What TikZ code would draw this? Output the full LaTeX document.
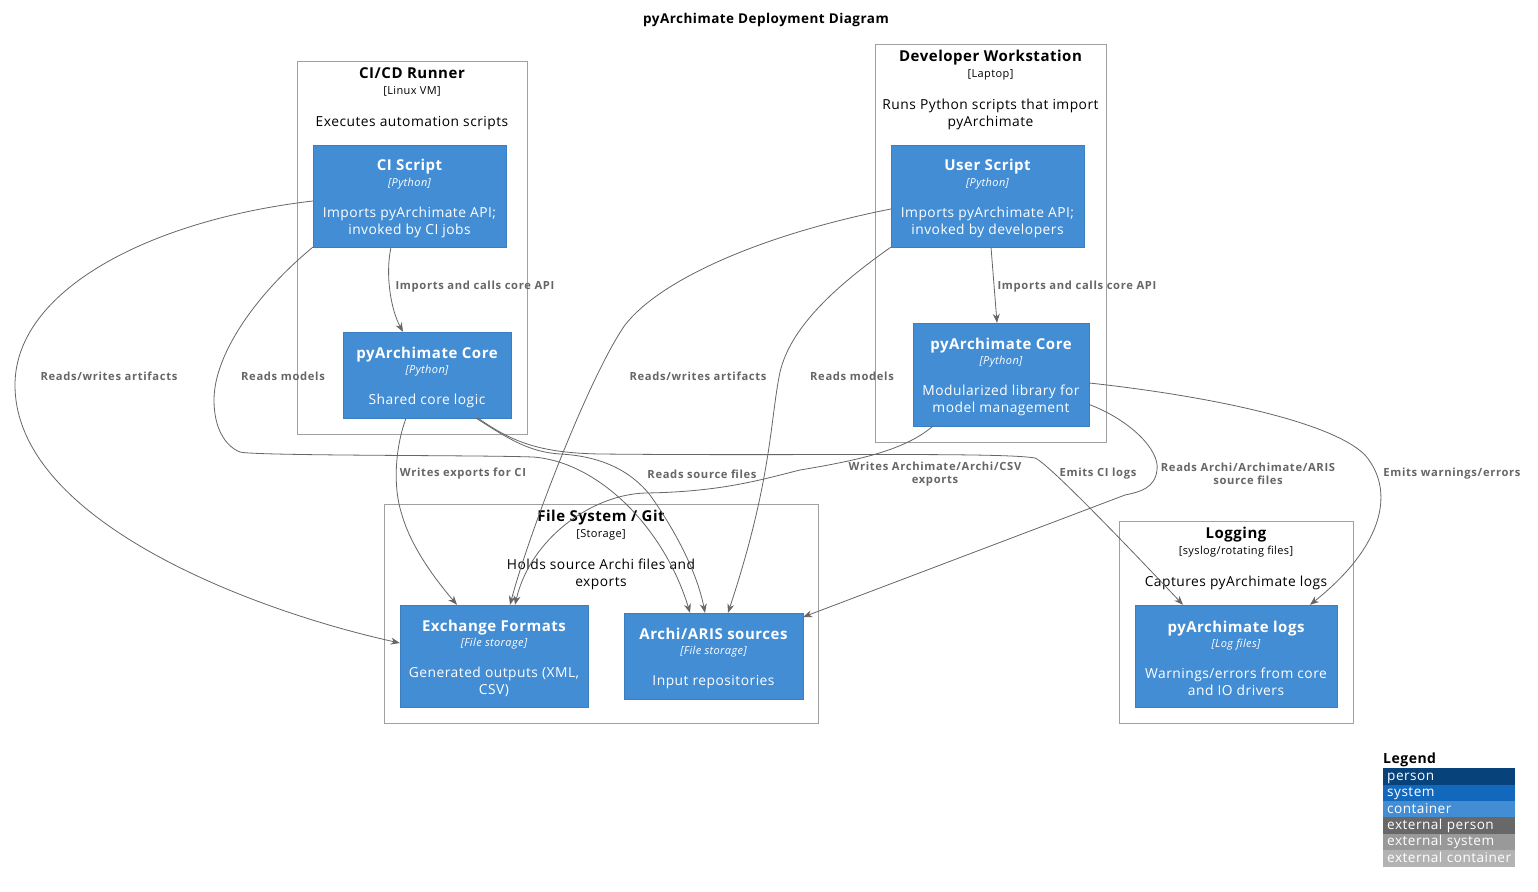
\documentclass[tikz,border=0pt]{standalone}
\usepackage{fontspec}
\setmainfont{Open Sans}[LetterSpace=3.5]
\newfontfamily\lblfont{Open Sans}[LetterSpace=6]
\usetikzlibrary{arrows.meta,calc}
\definecolor{cfill}{HTML}{438DD5}
\definecolor{cline}{HTML}{3C7FC0}
\definecolor{eline}{HTML}{666666}
\definecolor{bline}{HTML}{A0A0A0}
\definecolor{lperson}{HTML}{08427B}
\definecolor{lsystem}{HTML}{1168BD}
\definecolor{lcont}{HTML}{438DD5}
\definecolor{lextp}{HTML}{686868}
\definecolor{lexts}{HTML}{999999}
\definecolor{lextc}{HTML}{B3B3B3}
\begin{document}
\begin{tikzpicture}[x=1pt,y=-1pt,
 cont/.style={draw=cline,fill=cfill,text=white,align=center,inner sep=0pt,font=\fontsize{13.8}{17}\selectfont},
 bnd/.style={draw=bline,inner sep=0pt,line width=0.8pt},
 btext/.style={align=center,inner sep=0pt,anchor=north,font=\fontsize{13.8}{17}\selectfont},
 rel/.style={draw=eline,line width=0.8pt,-{Stealth[length=9pt,width=7pt]}},
 elabel/.style={text=eline,font=\lblfont\bfseries\fontsize{11.2}{13.5}\selectfont,align=center,inner sep=0pt},
 leg/.style={anchor=north west,text width=124pt,inner xsep=4pt,inner ysep=0pt,text height=12pt,text depth=4.4pt,align=left,text=white,font=\fontsize{13.6}{14}\selectfont}]
\useasboundingbox[fill=white] (0,0) rectangle (1538,891);

\node[font=\bfseries\fontsize{13.5}{16}\selectfont] (title) at (766,20) {pyArchimate Deployment Diagram};

% boundaries
\node[bnd,minimum width=230pt,minimum height=373pt] (cicd) at (412,247.5) {};
\node[btext] (cicdlbl) at (412,67) {{\bfseries\fontsize{15}{16.5}\selectfont CI/CD Runner}\\[-1pt]{\fontsize{11}{16.5}\selectfont [Linux VM]}\\[15pt]Executes automation scripts};
\node[bnd,minimum width=231pt,minimum height=398pt] (dev) at (990.5,243) {};
\node[btext] (devlbl) at (990.5,50) {{\bfseries\fontsize{15}{16.5}\selectfont Developer Workstation}\\[-1pt]{\fontsize{11}{16.5}\selectfont [Laptop]}\\[15pt]Runs Python scripts that import\\pyArchimate};
\node[bnd,minimum width=434pt,minimum height=219pt] (fs) at (601,613.5) {};
\node[btext] (fslbl) at (601,510) {{\bfseries\fontsize{15}{16.5}\selectfont File System / Git}\\[-1pt]{\fontsize{11}{16.5}\selectfont [Storage]}\\[15pt]Holds source Archi files and\\exports};
\node[bnd,minimum width=234pt,minimum height=202pt] (logb) at (1236,622) {};
\node[btext] (loglbl) at (1236,527) {{\bfseries\fontsize{15}{16.5}\selectfont Logging}\\[-1pt]{\fontsize{11}{16.5}\selectfont [syslog/rotating files]}\\[15pt]Captures pyArchimate logs};

% containers
\node[cont,minimum width=193pt,minimum height=102pt] (ciscript) at (409.5,196) {\rule{0pt}{16pt}{\bfseries\fontsize{15}{16.5}\selectfont CI Script}\\[-1.5pt]{\itshape\fontsize{11}{16.5}\selectfont [Python]}\\[14pt]Imports pyArchimate API;\\invoked by CI jobs};
\node[cont,minimum width=168pt,minimum height=86pt] (cicore) at (427,375) {\rule{0pt}{16pt}{\bfseries\fontsize{15}{16.5}\selectfont pyArchimate Core}\\[-1.5pt]{\itshape\fontsize{11}{16.5}\selectfont [Python]}\\[14pt]Shared core logic};
\node[cont,minimum width=193pt,minimum height=102pt] (uscript) at (987.5,196) {\rule{0pt}{16pt}{\bfseries\fontsize{15}{16.5}\selectfont User Script}\\[-1.5pt]{\itshape\fontsize{11}{16.5}\selectfont [Python]}\\[14pt]Imports pyArchimate API;\\invoked by developers};
\node[cont,minimum width=176pt,minimum height=103pt] (devcore) at (1001,374.5) {\rule{0pt}{16pt}{\bfseries\fontsize{15}{16.5}\selectfont pyArchimate Core}\\[-1.5pt]{\itshape\fontsize{11}{16.5}\selectfont [Python]}\\[14pt]Modularized library for\\model management};
\node[cont,minimum width=188pt,minimum height=102pt] (exch) at (494,656) {\rule{0pt}{16pt}{\bfseries\fontsize{15}{16.5}\selectfont Exchange Formats}\\[-1.5pt]{\itshape\fontsize{11}{16.5}\selectfont [File storage]}\\[14pt]Generated outputs (XML,\\CSV)};
\node[cont,minimum width=179pt,minimum height=86pt] (archi) at (713.5,656) {\rule{0pt}{16pt}{\bfseries\fontsize{15}{16.5}\selectfont Archi/ARIS sources}\\[-1.5pt]{\itshape\fontsize{11}{16.5}\selectfont [File storage]}\\[14pt]Input repositories};
\node[cont,minimum width=202pt,minimum height=102pt] (logs) at (1236,656) {\rule{0pt}{16pt}{\bfseries\fontsize{15}{16.5}\selectfont pyArchimate logs}\\[-1.5pt]{\itshape\fontsize{11}{16.5}\selectfont [Log files]}\\[14pt]Warnings/errors from core\\and IO drivers};

% connectors
\draw[rel] ($(ciscript.south)+(-18.5,0)$) node[elabel] at (475,287) {Imports and calls core API}
  .. controls (385,275) and (391,310) .. ($(cicore.north)+(-24,0)$);
\draw[rel] ($(uscript.south)+(3.5,0)$) node[elabel] at (1077,287) {Imports and calls core API}
  -- ($(devcore.north)+(-4,0)$);
\draw[rel] ($(ciscript.west)+(0,5)$) node[elabel] at (109,376) {Reads/writes artifacts}
  .. controls (150,220) and (15,290) .. (15,385) .. controls (15,520) and (250,610) .. ($(exch.west)+(0,-13)$);
\draw[rel] (ciscript.south west) node[elabel] at (283,376) {Reads models}
  .. controls (255,295) and (214,355) .. (214,400) .. controls (214,428) and (225,446) .. (240,452)
  .. controls (255,456) and (480,455) .. (533,457) .. controls (600,462) and (665,530) .. ($(archi.north)+(-23.5,0)$);
\draw[rel] ($(cicore.south)+(-21,0)$) node[elabel] at (463,474) {Writes exports for CI}
  .. controls (396,445) and (392,485) .. (402,515) .. controls (412,550) and (440,585) .. ($(exch.north)+(-37,0)$);
\draw[rel] ($(cicore.south east)+(-35,0)$) node[elabel] at (702,474) {Reads source files}
  .. controls (510,440) and (530,452) .. (560,454) .. controls (600,456) and (630,470) .. (650,495)
  .. controls (675,530) and (697,572) .. ($(archi.north)+(-8.5,0)$);
\draw[rel] ($(cicore.south east)+(-33,0)$) node[elabel] at (1098,474) {Emits CI logs}
  .. controls (512,442) and (540,453) .. (600,454) .. controls (800,456) and (1000,452) .. (1035,458)
  .. controls (1050,464) and (1150,570) .. ($(logs.north)+(-53,0)$);
\draw[rel] ($(uscript.west)+(0,13)$) node[elabel] at (698,376) {Reads/writes artifacts}
  .. controls (760,235) and (660,280) .. (625,325) .. controls (590,375) and (530,530) .. ($(exch.north)+(16,0)$);
\draw[rel] (uscript.south west) node[elabel] at (852,376) {Reads models}
  .. controls (830,290) and (790,330) .. (780,372) .. controls (770,420) and (772,480) .. ($(archi.north)+(14.5,0)$);
\draw[rel] ($(devcore.south west)+(20,0)$) node[elabel] at (935,474) {Writes Archimate/Archi/CSV\\exports}
  .. controls (905,450) and (860,460) .. (800,470) .. controls (760,480) and (720,492) .. (645,493)
  .. controls (590,495) and (530,540) .. ($(exch.north)+(21,0)$);
\draw[rel] ($(devcore.east)+(0,30)$) node[elabel] at (1248,474) {Reads Archi/Archimate/ARIS\\source files}
  .. controls (1130,420) and (1160,450) .. (1157,470) .. controls (1155,488) and (1140,492) .. (1125,495)
  -- ($(archi.east)+(0,-39)$);
\draw[rel] ($(devcore.east)+(0,8.5)$) node[elabel] at (1452,474) {Emits warnings/errors}
  .. controls (1200,395) and (1330,420) .. (1365,455) .. controls (1395,490) and (1385,545) .. ($(logs.north)+(74,0)$);

% legend
\node[anchor=west,inner sep=0pt,font=\bfseries\fontsize{14}{16}\selectfont] (legtitle) at (1383,760) {Legend};
\node[leg,fill=lperson] (lp) at (1383,768) {\mbox{person}};
\node[leg,fill=lsystem] (ls) at (1383,784.4) {\mbox{system}};
\node[leg,fill=lcont] (lc) at (1383,800.8) {\mbox{container}};
\node[leg,fill=lextp] (lep) at (1383,817.2) {\mbox{external person}};
\node[leg,fill=lexts] (les) at (1383,833.6) {\mbox{external system}};
\node[leg,fill=lextc] (lec) at (1383,850) {\mbox{external container}};
\end{tikzpicture}
\end{document}
